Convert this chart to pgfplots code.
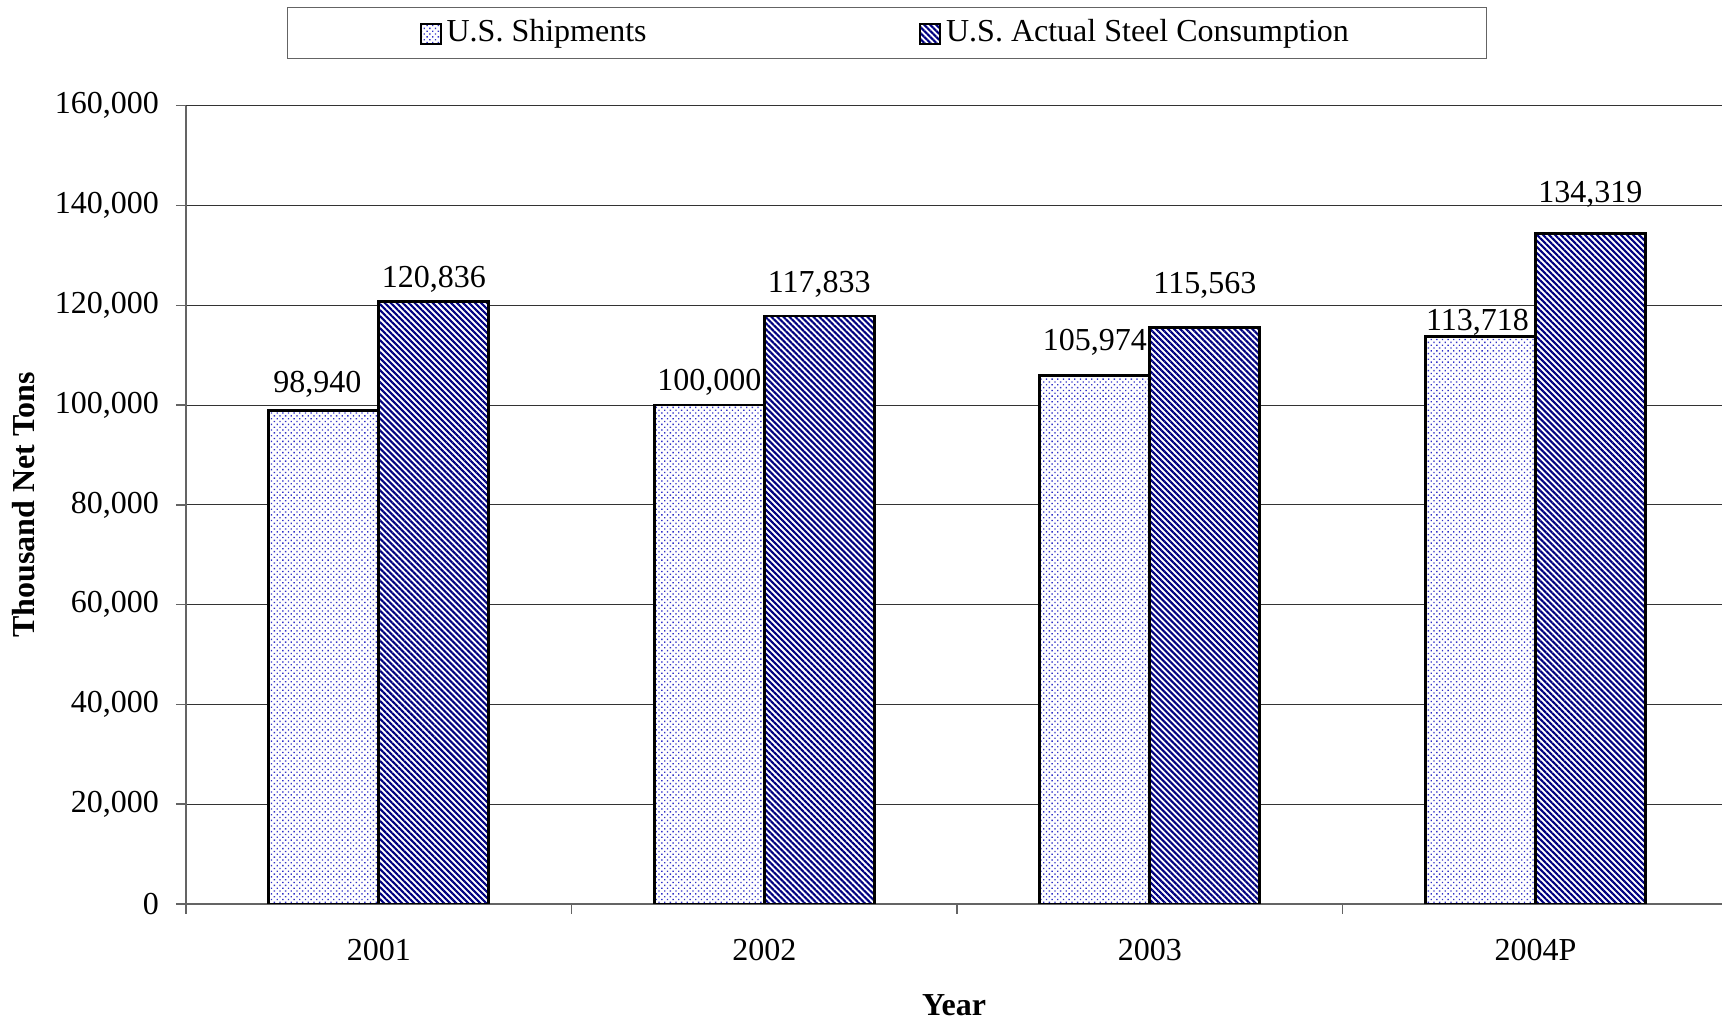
\documentclass[border=0pt]{standalone}
\usepackage{fontspec}
\setmainfont{Liberation Serif}
\usepackage{pgfplots}
\pgfplotsset{compat=1.18}
\usepackage{pgfplotstable}
\usetikzlibrary{patterns.meta}
\definecolor{navyb}{RGB}{0,0,128}
\definecolor{dotblue}{RGB}{50,50,200}
\definecolor{axgray}{RGB}{100,100,100}
\pgfplotsset{/pgf/number format/.cd, fixed, precision=0, 1000 sep={,}, assume math mode=true}

\pgfplotstableread{
x y dx dy
0 98940 -2.6 10.4
1 100000 0 9.0
2 105974 0 13.0
3 113718 -1.2 5.8
}\ship
\pgfplotstableread{
x y dx dy
0 120836 0 8.6
1 117833 0 12.6
2 115563 0 17.0
3 134319 0 15.8
}\cons

\begin{document}
\fontsize{12.8}{15.4}\selectfont
\begin{tikzpicture}
\useasboundingbox (-74.4pt,-48pt) rectangle (614.4pt,361.6pt);
\begin{axis}[
  at={(0,0)}, anchor=south west,
  scale only axis, width=614.4pt, height=319.3pt,
  xmin=-0.5, xmax=3.484, ymin=0, ymax=160000,
  ybar=0pt, bar width=44pt,
  axis x line*=bottom, axis y line*=left,
  axis line style={draw=axgray, line width=0.7pt},
  tick align=outside, major tick length=4pt,
  tick style={draw=axgray, line width=0.6pt},
  ymajorgrids, grid style={draw=black!80, line width=0.45pt},
  ytick={0,20000,...,160000},
  scaled y ticks=false,
  yticklabel style={xshift=-2.4pt},
  xtick={-0.5,0.5,1.5,2.5},
  xticklabels={,,,},
  extra x ticks={0,1,2,3},
  extra x tick labels={2001,2002,2003,2004P},
  extra x tick style={major tick length=0pt, xticklabel style={yshift=-9.5pt}},
  xlabel={\textbf{Year}},
  ylabel={\textbf{Thousand Net Tons}},
  every axis x label/.style={at={(axis description cs:0.5,-0.1265)}, anchor=center},
  every axis y label/.style={at={(axis description cs:-0.1055,0.5)}, anchor=center, rotate=90},
  legend columns=2,
  legend style={at={(axis description cs:0.0655,1.1241)}, anchor=north west,
    draw=axgray, inner xsep=53pt, inner ysep=2.8pt,
    /tikz/every even column/.append style={column sep=107pt}},
  every axis plot post/.append style={legend image code/.code={\draw[##1, line width=0.8pt] (1.6pt,-4.6pt) rectangle (9.6pt,3.4pt);}},
  nodes near coords,
  visualization depends on={\thisrow{dy}\as\labdy},
  visualization depends on={\thisrow{dx}\as\labdx},
  every node near coord/.append style={anchor=center, yshift=\labdy pt, xshift=\labdx pt},
]
\addplot[draw=black, line width=1.1pt, fill=white,
  postaction={pattern={Dots[distance=1.6pt, radius=0.38pt, angle=45]}, pattern color=dotblue}]
  table[x=x, y=y] {\ship};
\addlegendentry{U.S. Shipments}
\addplot[draw=black, line width=1.1pt, fill=white,
  postaction={pattern={Lines[angle=-45, distance=1.7pt, line width=0.85pt]}, pattern color=navyb}]
  table[x=x, y=y] {\cons};
\addlegendentry{U.S. Actual Steel Consumption}
\end{axis}
\end{tikzpicture}
\end{document}
